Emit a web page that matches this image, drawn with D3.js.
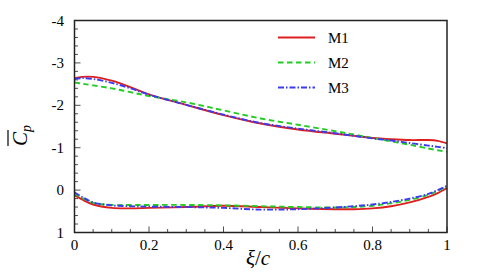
<!DOCTYPE html>
<html><head><meta charset="utf-8">
<script src="https://cdn.jsdelivr.net/npm/d3@7"></script>
<style>body{margin:0;background:#fff}svg{display:block}</style>
</head><body>
<svg id="c" width="498" height="278"></svg>
<script>
const xi = [0,0.02,0.05,0.1,0.15,0.2,0.3,0.4,0.5,0.6,0.7,0.75,0.8,0.85,0.9,0.95,0.975,1];
const m1Upper = [-2.64,-2.67,-2.67,-2.58,-2.43,-2.26,-2.01,-1.77,-1.57,-1.43,-1.33,-1.28,-1.23,-1.20,-1.18,-1.18,-1.16,-1.10];
const m2Upper = [-2.54,-2.51,-2.47,-2.40,-2.31,-2.22,-2.07,-1.88,-1.69,-1.54,-1.39,-1.31,-1.23,-1.15,-1.07,-0.98,-0.94,-0.90];
const m3Upper = [-2.62,-2.64,-2.62,-2.53,-2.40,-2.25,-2.01,-1.78,-1.58,-1.45,-1.34,-1.28,-1.22,-1.17,-1.11,-1.05,-1.02,-0.99];
const m1Lower = [0.12,0.22,0.34,0.42,0.43,0.42,0.40,0.37,0.40,0.43,0.45,0.45,0.43,0.38,0.29,0.16,0.07,-0.05];
const m2Lower = [0.08,0.18,0.30,0.35,0.35,0.35,0.35,0.36,0.38,0.40,0.41,0.40,0.37,0.31,0.23,0.11,0.02,-0.08];
const m3Lower = [0.05,0.16,0.29,0.36,0.38,0.39,0.40,0.42,0.46,0.45,0.41,0.38,0.34,0.28,0.20,0.09,0.00,-0.10];
const seriesNames = ["M1","M2","M3"];
const xTicks = [0,0.2,0.4,0.6,0.8,1];
const yTicks = [-4,-3,-2,-1,0,1];

const colors = ["#dd1f1f","#22cc22","#3a3aee"];
const dashes = [null,"5.5,3.5","6,2,1.5,2"];
const series = [
  {name:seriesNames[0], upper:m1Upper, lower:m1Lower},
  {name:seriesNames[1], upper:m2Upper, lower:m2Lower},
  {name:seriesNames[2], upper:m3Upper, lower:m3Lower}
];

const L=74.5, R=447, T=20.5, B=232.5;
const x = d3.scaleLinear().domain([0,1]).range([L,R]);
const y = d3.scaleLinear().domain([-4,1]).range([T,B]);
const svg = d3.select("#c");
const font = "'Liberation Serif','Times New Roman','DejaVu Serif',serif";

const g = svg.append("g");
d3.range(0,1.0001,0.05).forEach(v=>{
  const major = xTicks.some(t=>Math.abs(t-v)<1e-6);
  g.append("line").attr("x1",x(v)).attr("x2",x(v)).attr("y1",B).attr("y2",B-(major?6:3.5))
   .attr("stroke","#222").attr("stroke-width",0.8);
});
d3.range(-4,1.0001,0.2).forEach(v=>{
  const major = yTicks.some(t=>Math.abs(t-v)<1e-6);
  g.append("line").attr("y1",y(v)).attr("y2",y(v)).attr("x1",L).attr("x2",L+(major?6:3.5))
   .attr("stroke","#222").attr("stroke-width",0.8);
});

svg.append("g").selectAll("text").data(xTicks).join("text")
  .attr("x",d=>x(d)).attr("y",250).attr("text-anchor","middle")
  .attr("font-family",font).attr("font-size",15).text(d=>d3.format("")(d));
svg.append("g").selectAll("text").data(yTicks).join("text")
  .attr("x",64).attr("y",d=>y(d)+5).attr("text-anchor","end")
  .attr("font-family",font).attr("font-size",15).text(d=>d);

const line = d3.line().x((d,i)=>x(xi[i])).y(d=>y(d)).curve(d3.curveCatmullRom.alpha(0.5));
series.forEach((s,k)=>{
  [s.upper,s.lower].forEach(arr=>{
    svg.append("path").attr("d",line(arr)).attr("fill","none")
      .attr("stroke",colors[k]).attr("stroke-width",1.9)
      .attr("stroke-dasharray",dashes[k]);
  });
});

svg.append("rect").attr("x",L).attr("y",T).attr("width",R-L).attr("height",B-T)
  .attr("fill","none").attr("stroke","#222").attr("stroke-width",1.5);

series.forEach((s,k)=>{
  const ly = 37.5 + k*25;
  svg.append("line").attr("x1",278).attr("x2",315).attr("y1",ly).attr("y2",ly)
    .attr("stroke",colors[k]).attr("stroke-width",1.9).attr("stroke-dasharray",dashes[k]);
  svg.append("text").attr("x",328).attr("y",ly+5.5).attr("font-family",font)
    .attr("font-size",15).text(s.name);
});

const xl = svg.append("text").attr("x",258).attr("y",265).attr("text-anchor","middle")
  .attr("font-family",font).attr("font-size",21);
xl.append("tspan").attr("font-style","italic").text("ξ");
xl.append("tspan").text("/");
xl.append("tspan").attr("font-style","italic").text("c");

const yg = svg.append("g").attr("transform","translate(27,132) rotate(-90)");
yg.append("text").attr("x",-14).attr("y",0).attr("font-family",font).attr("font-size",21)
  .attr("font-style","italic")
  .text("C").append("tspan").attr("font-size",14).attr("dy",4).text("p");
yg.append("line").attr("x1",-14).attr("x2",2).attr("y1",-19).attr("y2",-19)
  .attr("stroke","#000").attr("stroke-width",1.2);
</script>
</body></html>
